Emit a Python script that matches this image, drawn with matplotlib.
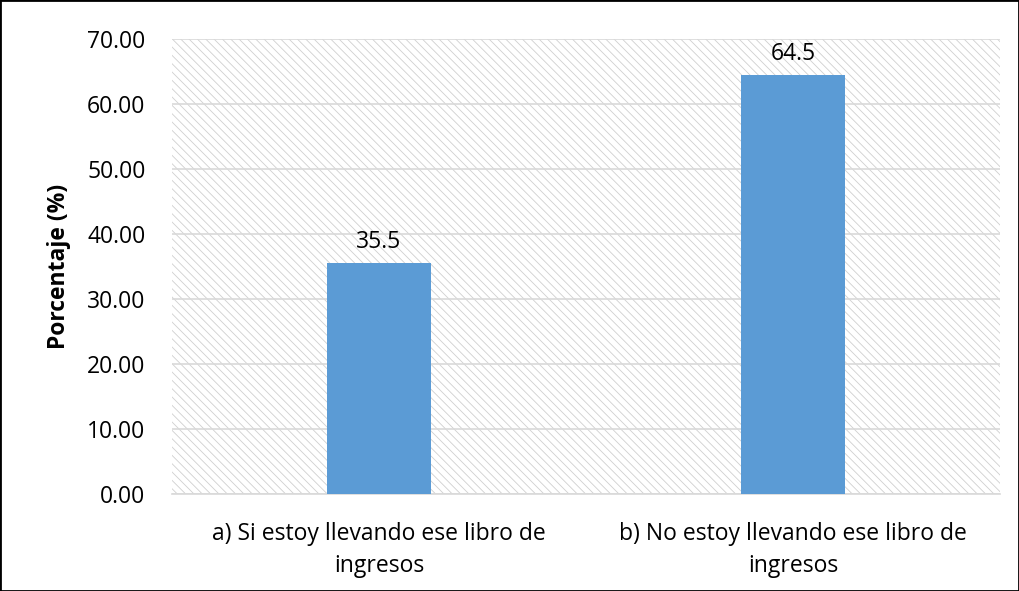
import matplotlib
matplotlib.use("Agg")
import matplotlib.pyplot as plt
from matplotlib.patches import Rectangle

categories = ["a) Si estoy llevando ese libro de\ningresos",
              "b) No estoy llevando ese libro de\ningresos"]
values = [35.5, 64.5]
value_labels = ["35.5", "64.5"]
yticks = [0, 10, 20, 30, 40, 50, 60, 70]

plt.rcParams["font.family"] = ["Open Sans", "DejaVu Sans"]
plt.rcParams["hatch.linewidth"] = 0.6
plt.rcParams["hatch.color"] = "#d0d0d0"

FS = 16.5

fig = plt.figure(figsize=(10.19, 5.91), dpi=100)
ax = fig.add_axes([172 / 1019, 1 - 494 / 591, 828 / 1019, 455 / 591])

# hatched plot background
ax.add_patch(Rectangle((0, 0), 1, 1, transform=ax.transAxes, facecolor="white",
                       edgecolor="#d0d0d0", hatch="\\\\\\\\", linewidth=0, zorder=0))

x = list(range(len(categories)))
ax.bar(x, values, width=0.25, color="#5b9bd5", zorder=3)
for xi, v, lab in zip(x, values, value_labels):
    ax.text(xi, v + 1.4, lab, ha="center", va="bottom", fontsize=FS, zorder=4)

ax.set_xlim(-0.5, 1.5)
ax.set_ylim(0, 70)
ax.set_yticks(yticks)
ax.set_yticklabels([f"{t:.2f}" for t in yticks], fontsize=FS)
ax.set_xticks(x)
ax.set_xticklabels(categories, fontsize=FS, multialignment="center", linespacing=1.45)
ax.tick_params(length=0)
ax.tick_params(axis="y", pad=19)
ax.tick_params(axis="x", pad=20)
ax.yaxis.grid(True, color="#d9d9d9", linewidth=1.2, zorder=1)
ax.set_axisbelow(True)
for s in ["top", "right", "left"]:
    ax.spines[s].set_visible(False)
ax.spines["bottom"].set_color("#d9d9d9")
ax.spines["bottom"].set_linewidth(1.2)
ax.set_ylabel("Porcentaje (%)", fontsize=FS, fontweight="bold", labelpad=12)

# figure border
fig.patches.append(Rectangle((0, 0), 1, 1, transform=fig.transFigure, fill=False,
                             edgecolor="black", linewidth=2))

fig.savefig("out.png", dpi=100)
